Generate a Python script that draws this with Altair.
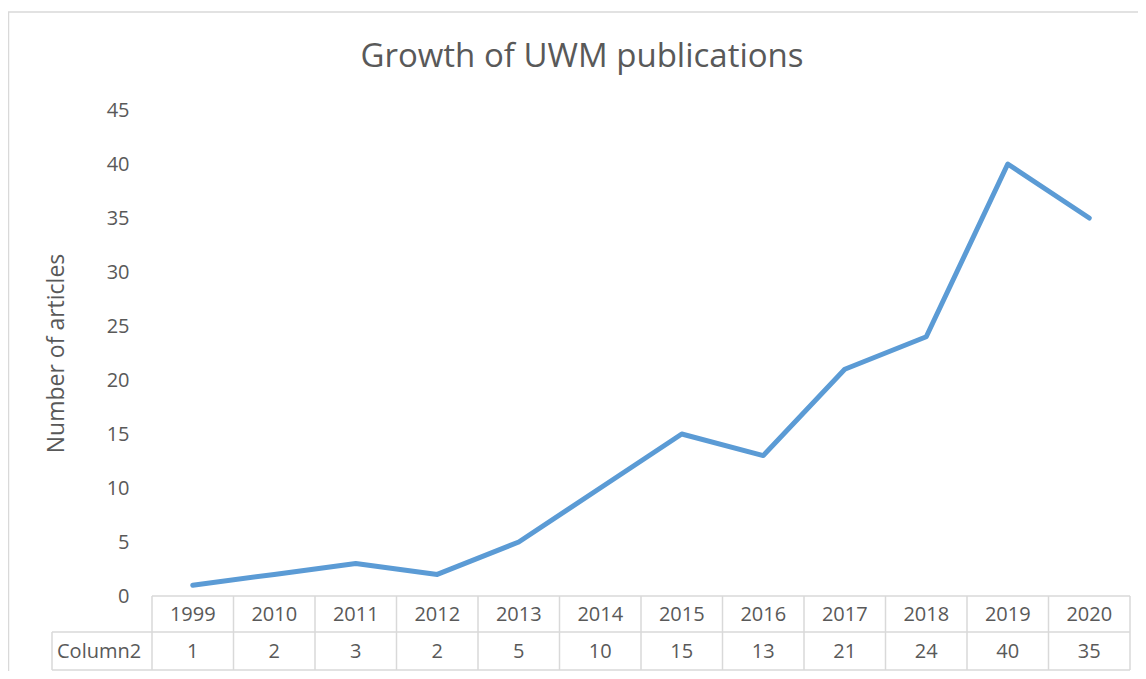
import altair as alt
import pandas as pd

years = ["1999", "2010", "2011", "2012", "2013", "2014", "2015", "2016", "2017", "2018", "2019", "2020"]
articles = [1, 2, 3, 2, 5, 10, 15, 13, 21, 24, 40, 35]
y_ticks = [0, 5, 10, 15, 20, 25, 30, 35, 40, 45]
title_text = "Growth of UWM publications"
axis_title = "Number of articles"
row_label = "Column2"

FONT = "Open Sans"
TXT = "#595959"
GRID = "#D9D9D9"
W, H = 978, 486

df = pd.DataFrame({"idx": list(range(len(years))), "year": years, "value": articles})
bounds = pd.DataFrame({"b": [i - 0.5 for i in range(len(years) + 1)]})
one = pd.DataFrame({"k": [0], "ttl": [title_text], "lbl": [row_label]})

xs = alt.Scale(domain=[-0.5, len(years) - 0.5], nice=False, zero=False)


def xenc(field):
    return alt.X(field, scale=xs, axis=None)


line = alt.Chart(df).mark_line(color="#5B9BD5", strokeWidth=5, strokeCap="round", strokeJoin="round").encode(
    x=xenc("idx:Q"),
    y=alt.Y("value:Q", scale=alt.Scale(domain=[0, 45], nice=False),
            axis=alt.Axis(values=y_ticks, grid=False, domain=False, ticks=False,
                          labelPadding=23, labelFontSize=20, labelFont=FONT, labelColor=TXT,
                          title=axis_title, titleFontSize=23, titleFont=FONT, titleColor=TXT,
                          titleFontWeight="normal", titleX=-96, titleY=243, titleAngle=270,
                          titleAlign="center", titleBaseline="middle")),
)

year_text = alt.Chart(df).mark_text(font=FONT, fontSize=20, color=TXT, baseline="middle").encode(
    x=xenc("idx:Q"), y=alt.value(505), text="year:N")
val_text = alt.Chart(df).mark_text(font=FONT, fontSize=20, color=TXT, baseline="middle").encode(
    x=xenc("idx:Q"), y=alt.value(542), text="value:Q")
label_text = alt.Chart(one).mark_text(font=FONT, fontSize=20, color=TXT, baseline="middle", align="left").encode(
    x=alt.value(-95), y=alt.value(542), text="lbl:N")

vlines = alt.Chart(bounds).mark_rule(color=GRID, strokeWidth=1.5).encode(
    x=xenc("b:Q"), y=alt.value(486), y2=alt.value(560))


def rule(x1, x2=None, y1=None, y2=None):
    enc = {"x": alt.value(x1), "y": alt.value(y1)}
    if x2 is not None:
        enc["x2"] = alt.value(x2)
    if y2 is not None:
        enc["y2"] = alt.value(y2)
    return alt.Chart(one).mark_rule(color=GRID, strokeWidth=1.5).encode(**enc)


lv = rule(-100, y1=522, y2=560)
h1 = rule(0, W, 486)
h2 = rule(-100, W, 522)
h3 = rule(-100, W, 560)
frame_l = rule(-143.5, y1=-98, y2=600)
frame_t = rule(-144, 1010, -98)

title = alt.Chart(one).mark_text(font=FONT, fontSize=33, color=TXT, baseline="middle", align="center").encode(
    x=alt.value(430), y=alt.value(-53), text="ttl:N")

chart = alt.layer(
    frame_l, frame_t, vlines, lv, h1, h2, h3, year_text, val_text, label_text, title, line
).properties(
    width=W, height=H,
    autosize=alt.AutoSizeParams(type="none"),
    padding={"left": 144, "top": 102, "right": 8, "bottom": 75},
).configure_view(strokeWidth=0)

chart.save("out.html", embed_options={"renderer": "svg", "actions": False})
